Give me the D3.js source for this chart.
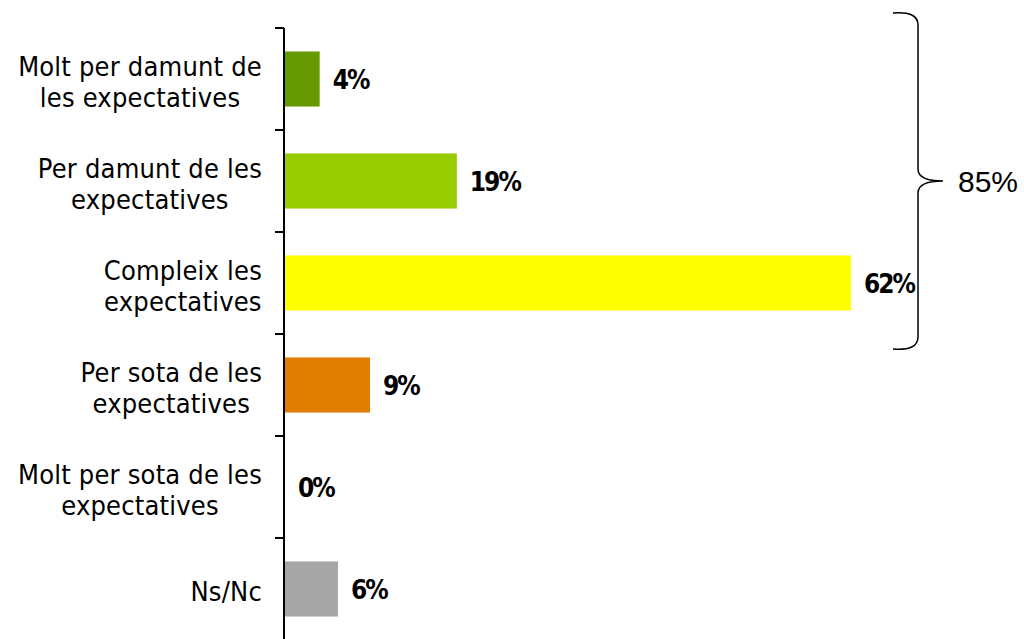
<!DOCTYPE html>
<html>
<head>
<meta charset="utf-8">
<script src="https://cdn.jsdelivr.net/npm/d3@7"></script>
<style>
  body { margin: 0; background: #fff; }
  svg { display: block; }
</style>
</head>
<body>
<svg id="canvas"></svg>
<script>
const width = 1024;
const height = 639;

/* Chart data */
const categories = [
  ["Molt per damunt de", "les expectatives"],
  ["Per damunt de les", "expectatives"],
  ["Compleix les", "expectatives"],
  ["Per sota de les", "expectatives"],
  ["Molt per sota de les", "expectatives"],
  ["Ns/Nc"]
];
const values = [3.9, 18.9, 62, 9.4, 0, 5.9];
const valueLabels = ["4%", "19%", "62%", "9%", "0%", "6%"];
const barColors = ["#669900", "#99cc00", "#ffff00", "#e17d00", "#a6a6a6", "#a6a6a6"];
const braceLabel = "85%";
const braceGroup = [0, 2];

const labelFont = "'DejaVu Sans Condensed', 'DejaVu Sans', sans-serif";

/* Sets up svg */
const svg = d3.select("#canvas")
    .attr("width", width)
    .attr("height", height);

const ids = categories.map((d, i) => i);

/* Scales */
const y = d3.scaleBand()
    .domain(ids)
    .range([28, 640])
    .paddingInner(0.46)
    .paddingOuter(0.23);

const x = d3.scaleLinear()
    .domain([0, 62])
    .range([284, 851]);

/* Bars */
svg.append("g")
    .selectAll("rect")
    .data(values)
    .enter()
    .append("rect")
    .attr("x", x(0))
    .attr("y", (d, i) => y(i))
    .attr("width", d => x(d) - x(0))
    .attr("height", y.bandwidth())
    .attr("fill", (d, i) => barColors[i]);

/* Axis line with ticks at band boundaries */
const gap = y.step() * y.paddingInner() / 2;
const tickPos = ids.map(i => y(i) - gap);
const axis = svg.append("g");
axis.append("line")
    .attr("x1", x(0)).attr("x2", x(0))
    .attr("y1", tickPos[0]).attr("y2", height)
    .attr("stroke", "#000")
    .attr("stroke-width", 2);
axis.selectAll("line.tick")
    .data(tickPos)
    .enter()
    .append("line")
    .classed("tick", true)
    .attr("x1", x(0) - 9).attr("x2", x(0))
    .attr("y1", d => d).attr("y2", d => d)
    .attr("stroke", "#000")
    .attr("stroke-width", 2);

/* Category labels: block right-aligned, lines centred in the block */
const lineH = 31;
const labelRight = 262;
svg.append("g")
    .selectAll("text")
    .data(categories)
    .enter()
    .append("text")
    .attr("y", (d, i) => y(i) + y.bandwidth() / 2 - (d.length - 1) * lineH / 2 + 3)
    .attr("text-anchor", "middle")
    .attr("font-family", labelFont)
    .attr("font-size", 27)
    .attr("letter-spacing", 0.2)
    .attr("fill", "#000")
    .each(function(d) {
        const spans = d3.select(this).selectAll("tspan")
            .data(d)
            .enter()
            .append("tspan")
            .attr("dy", (t, j) => j === 0 ? "0.35em" : lineH)
            .text(t => t);
        const maxW = d3.max(spans.nodes(), n => n.getComputedTextLength());
        spans.attr("x", labelRight - maxW / 2);
    });

/* Value labels */
svg.append("g")
    .selectAll("text")
    .data(values)
    .enter()
    .append("text")
    .attr("x", d => x(d) + (d > 0 ? 13 : 14))
    .attr("y", (d, i) => y(i) + y.bandwidth() / 2 + 1)
    .attr("dy", "0.36em")
    .attr("font-family", labelFont)
    .attr("font-size", 26)
    .attr("font-weight", "bold")
    .attr("letter-spacing", -2)
    .attr("fill", "#000")
    .text((d, i) => valueLabels[i]);

/* Brace around the first three bars */
const braceTop = y(braceGroup[0]) - gap - 15;
const braceBottom = y(braceGroup[1]) + y.bandwidth() + gap + 15;
const braceMid = (braceTop + braceBottom) / 2;
const bx = 918, bl = 893, tip = 943;
const bracePath = d3.path();
bracePath.moveTo(bl, braceTop);
bracePath.quadraticCurveTo(bx, braceTop - 2, bx, braceTop + 12);
bracePath.lineTo(bx, braceMid - 12);
bracePath.quadraticCurveTo(bx, braceMid, tip, braceMid);
bracePath.quadraticCurveTo(bx, braceMid, bx, braceMid + 12);
bracePath.lineTo(bx, braceBottom - 12);
bracePath.quadraticCurveTo(bx, braceBottom + 2, bl, braceBottom);

svg.append("path")
    .attr("d", bracePath.toString())
    .attr("fill", "none")
    .attr("stroke", "#000")
    .attr("stroke-width", 1.5);

svg.append("text")
    .attr("x", 958)
    .attr("y", braceMid)
    .attr("dy", "0.36em")
    .attr("font-family", "'Liberation Sans', Arial, sans-serif")
    .attr("font-size", 30)
    .attr("fill", "#000")
    .text(braceLabel);
</script>
</body>
</html>
